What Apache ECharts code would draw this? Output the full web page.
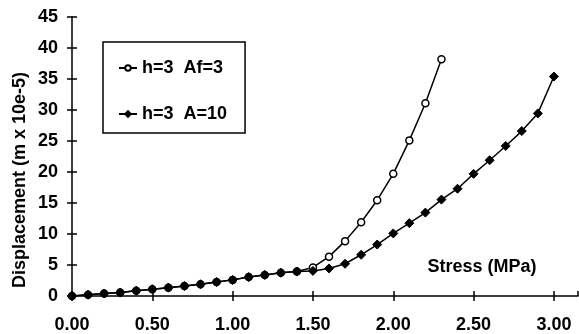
<!DOCTYPE html>
<html>
<head>
<meta charset="utf-8">
<script src="https://cdn.jsdelivr.net/npm/echarts@6/dist/echarts.min.js"></script>
<style>
html,body{margin:0;padding:0;background:#fff;}
#c{width:579px;height:334px;}
</style>
</head>
<body>
<div id="c"></div>
<script>
// Stress values (MPa)
var stressA = [0.0,0.1,0.2,0.3,0.4,0.5,0.6,0.7,0.8,0.9,1.0,1.1,1.2,1.3,1.4,1.5,1.6,1.7,1.8,1.9,2.0,2.1,2.2,2.3];
var dispA   = [0,0.2,0.4,0.55,0.85,1.1,1.35,1.6,1.9,2.25,2.6,3.05,3.4,3.75,3.95,4.6,6.35,8.85,11.9,15.45,19.7,25.1,31.1,38.2];
var stressB = [0.0,0.1,0.2,0.3,0.4,0.5,0.6,0.7,0.8,0.9,1.0,1.1,1.2,1.3,1.4,1.5,1.6,1.7,1.8,1.9,2.0,2.1,2.2,2.3,2.4,2.5,2.6,2.7,2.8,2.9,3.0];
var dispB   = [0,0.2,0.4,0.55,0.85,1.1,1.35,1.6,1.9,2.25,2.6,3.05,3.4,3.75,3.95,4.05,4.45,5.2,6.65,8.3,10.1,11.75,13.45,15.55,17.3,19.7,21.9,24.2,26.6,29.45,35.4];
var seriesNames = ['h=3  Af=3', 'h=3  A=10'];
var xTitle = 'Stress (MPa)';
var yTitle = 'Displacement (m x 10e-5)';

function pairs(xs, ys){ return xs.map(function(x,i){ return [x, ys[i]]; }); }

var FONT = 'Liberation Sans, Arial, sans-serif';
var chart = echarts.init(document.getElementById('c'), null, {renderer:'canvas'});
chart.setOption({
  animation: false,
  backgroundColor: '#fff',
  grid: {left: 72, right: 1, top: 17, bottom: 38, containLabel: false},
  xAxis: [{
    type: 'value', min: 0, max: 3.15, interval: 0.5,
    axisLine: {onZero: false, lineStyle: {color: '#000', width: 1.5}},
    axisTick: {show: true, length: 5, lineStyle: {color: '#000', width: 1.5}},
    axisLabel: {color: '#000', fontFamily: FONT, fontWeight: 'bold', fontSize: 18, margin: 20,
      showMaxLabel: false, formatter: function(v){ return v.toFixed(2); }},
    splitLine: {show: false}
  }, {
    type: 'value', min: 0, max: 3.15, interval: 0.5, position: 'top',
    axisLine: {show: false, onZero: true},
    axisTick: {show: true, inside: false, length: 5, lineStyle: {color: '#000', width: 1.5}},
    axisLabel: {show: false}, splitLine: {show: false}
  }],
  yAxis: [{
    type: 'value', min: 0, max: 45, interval: 5,
    axisLine: {show: true, onZero: false, lineStyle: {color: '#000', width: 1.5}},
    axisTick: {show: true, length: 5, lineStyle: {color: '#000', width: 1.5}},
    axisLabel: {color: '#000', fontFamily: FONT, fontWeight: 'bold', fontSize: 18, margin: 14},
    splitLine: {show: false}
  }, {
    type: 'value', min: 0, max: 45, interval: 5, position: 'right',
    axisLine: {show: false, onZero: true},
    axisTick: {show: true, length: 5, lineStyle: {color: '#000', width: 1.5}},
    axisLabel: {show: false}, splitLine: {show: false}
  }],
  legend: {
    orient: 'vertical', left: 103, top: 42,
    padding: [17, 18, 10, 15], itemGap: 28, itemWidth: 18, itemHeight: 7,
    borderColor: '#000', borderWidth: 1.5, backgroundColor: '#fff',
    textStyle: {color: '#000', fontFamily: FONT, fontWeight: 'bold', fontSize: 18},
    data: seriesNames
  },
  graphic: [{
    type: 'text', x: 20, y: 180, rotation: Math.PI/2,
    style: {text: yTitle, fill: '#000', font: 'bold 18px ' + FONT, textAlign: 'center', textVerticalAlign: 'middle'}
  }, {
    type: 'text', x: 482, y: 267,
    style: {text: xTitle, fill: '#000', font: 'bold 18px ' + FONT, textAlign: 'center', textVerticalAlign: 'middle'}
  }],
  series: [{
    name: seriesNames[0], type: 'line', xAxisIndex: 0, yAxisIndex: 0,
    data: pairs(stressA, dispA),
    symbol: 'circle', symbolSize: 7, showAllSymbol: true,
    lineStyle: {color: '#000', width: 1.5},
    itemStyle: {color: '#fff', borderColor: '#000', borderWidth: 1.5},
    z: 2
  }, {
    name: seriesNames[1], type: 'line', xAxisIndex: 0, yAxisIndex: 0,
    data: pairs(stressB, dispB),
    symbol: 'diamond', symbolSize: 9, showAllSymbol: true,
    lineStyle: {color: '#000', width: 1.5},
    itemStyle: {color: '#000', borderColor: '#000', borderWidth: 1},
    z: 3
  }]
});
</script>
</body>
</html>
